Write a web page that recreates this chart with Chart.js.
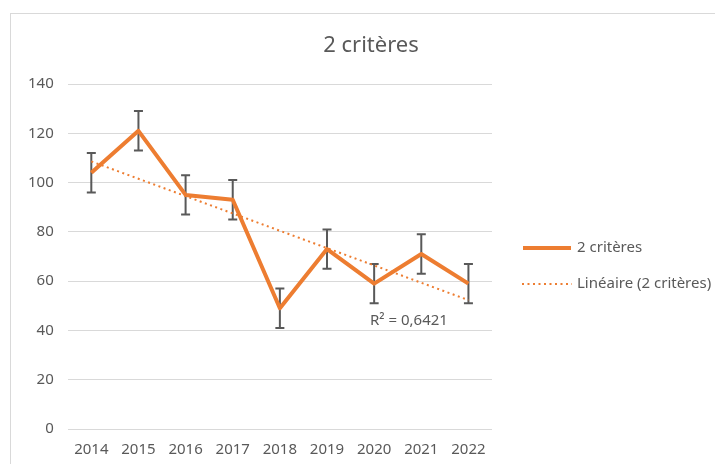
<!DOCTYPE html>
<html>
<head>
<meta charset="utf-8">
<script src="https://cdn.jsdelivr.net/npm/chart.js@4.4.1/dist/chart.umd.min.js"></script>
<style>
    body { margin: 0; background: #ffffff; overflow: hidden; }
    #wrap { position: relative; width: 715px; height: 464px; }
    #frame { position: absolute; left: 10px; top: 13px; width: 800px; height: 500px; border: 1px solid #D9D9D9; }
    canvas { position: absolute; left: 0; top: 0; }
</style>
</head>
<body>
<div id="wrap">
    <div id="frame"></div>
    <canvas id="myChart" width="715" height="464"></canvas>
</div>
<script>
// Data
const years = ['2014', '2015', '2016', '2017', '2018', '2019', '2020', '2021', '2022'];
const values = [104, 121, 95, 93, 49, 73, 59, 71, 59];
const errors = [8, 8, 8, 8, 8, 8, 8, 8, 8];
const seriesName = '2 critères';
const trendName = 'Linéaire (2 critères)';
const yTicks = [0, 20, 40, 60, 80, 100, 120, 140];

const orange = '#ED7D31';
const textColor = '#595959';
const fontFamily = "'Noto Sans', sans-serif";

// Least squares trendline (what Excel draws), plus its R²
const n = values.length;
const meanX = (n - 1) / 2;
const meanY = values.reduce((a, b) => a + b, 0) / n;
let sxy = 0, sxx = 0, syy = 0;
values.forEach(function(v, i) {
    sxy += (i - meanX) * (v - meanY);
    sxx += (i - meanX) * (i - meanX);
    syy += (v - meanY) * (v - meanY);
});
const slope = sxy / sxx;
const trend = values.map(function(v, i) { return meanY + slope * (i - meanX); });
const r2 = (slope * slope * sxx) / syy;

// error bars, drawn under the line
const errorBars = {
    id: 'errorBars',
    beforeDatasetsDraw(chart) {
        const ctx = chart.ctx;
        const y = chart.scales.y;
        const meta = chart.getDatasetMeta(0);
        ctx.save();
        ctx.strokeStyle = '#595959';
        ctx.lineWidth = 2;
        meta.data.forEach(function(pt, i) {
            const top = y.getPixelForValue(values[i] + errors[i]);
            const bot = y.getPixelForValue(values[i] - errors[i]);
            ctx.beginPath();
            ctx.moveTo(pt.x, top);
            ctx.lineTo(pt.x, bot);
            ctx.moveTo(pt.x - 4.5, top);
            ctx.lineTo(pt.x + 4.5, top);
            ctx.moveTo(pt.x - 4.5, bot);
            ctx.lineTo(pt.x + 4.5, bot);
            ctx.stroke();
        });
        ctx.restore();
    }
};

// title, R² label and the legend on the right
const extras = {
    id: 'extras',
    afterDraw(chart) {
        const ctx = chart.ctx;
        ctx.save();
        ctx.fillStyle = textColor;
        ctx.textBaseline = 'middle';

        ctx.font = '22px ' + fontFamily;
        ctx.textAlign = 'center';
        ctx.fillText(seriesName, 371, 46);

        ctx.font = '15px ' + fontFamily;
        ctx.textAlign = 'left';
        ctx.fillText('R² = ' + r2.toFixed(4).replace('.', ','), 370, 321);

        // legend
        ctx.strokeStyle = orange;
        ctx.lineWidth = 4;
        ctx.beginPath();
        ctx.moveTo(523, 248);
        ctx.lineTo(571, 248);
        ctx.stroke();
        ctx.lineWidth = 2;
        ctx.setLineDash([2, 3.5]);
        ctx.beginPath();
        ctx.moveTo(522, 284);
        ctx.lineTo(572, 284);
        ctx.stroke();
        ctx.setLineDash([]);
        ctx.fillText(seriesName, 577, 248);
        ctx.fillText(trendName, 577, 284);
        ctx.restore();
    }
};

var ctx = document.getElementById('myChart').getContext('2d');
var myChart = new Chart(ctx, {
    type: 'line',
    data: {
        labels: years,
        datasets: [{
            label: seriesName,
            data: values,
            borderColor: orange,
            borderWidth: 4,
            borderJoinStyle: 'round',
            pointRadius: 0,
            tension: 0,
            fill: false
        }, {
            label: trendName,
            data: trend,
            borderColor: orange,
            borderWidth: 2,
            borderDash: [2, 3.5],
            pointRadius: 0,
            tension: 0,
            fill: false
        }]
    },
    options: {
        responsive: false,
        animation: false,
        layout: {
            padding: { left: 14, right: 223, top: 84, bottom: 1 }
        },
        plugins: {
            legend: { display: false },
            tooltip: { enabled: false }
        },
        scales: {
            x: {
                offset: true,
                grid: { display: false },
                border: { display: false },
                ticks: {
                    color: textColor,
                    font: { family: fontFamily, size: 15 },
                    padding: 4,
                    autoSkip: false,
                    maxRotation: 0
                }
            },
            y: {
                min: 0,
                max: 140,
                afterBuildTicks: function(axis) {
                    axis.ticks = yTicks.map(function(v) { return { value: v }; });
                },
                grid: { color: '#D9D9D9', lineWidth: 1, drawTicks: false },
                border: { display: false },
                ticks: {
                    color: textColor,
                    font: { family: fontFamily, size: 15 },
                    padding: 14
                }
            }
        }
    },
    plugins: [errorBars, extras]
});
</script>
</body>
</html>
